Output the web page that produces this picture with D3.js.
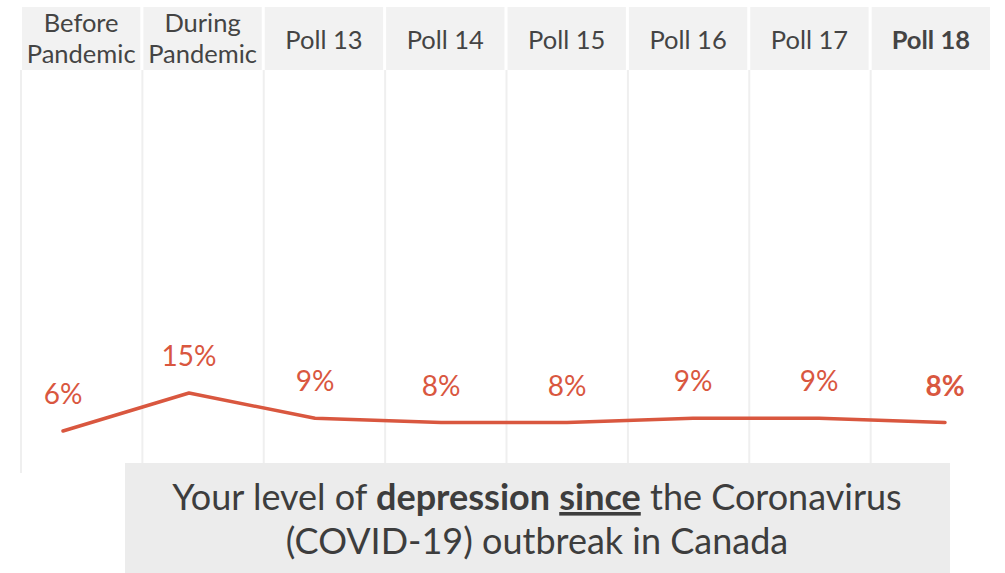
<!DOCTYPE html>
<html>
<head>
<meta charset="utf-8">
<script src="https://cdn.jsdelivr.net/npm/d3@7"></script>
<style>
  body { margin: 0; background: #fff; }
  svg { display: block; font-family: "Lato", "Open Sans", sans-serif; }
</style>
</head>
<body>
<div id="chart"></div>
<script>
// depression since covid - poll tracker

var categories = ["Before Pandemic", "During Pandemic", "Poll 13", "Poll 14", "Poll 15", "Poll 16", "Poll 17", "Poll 18"];
var headerLines = [["Before", "Pandemic"], ["During", "Pandemic"], ["Poll 13"], ["Poll 14"], ["Poll 15"], ["Poll 16"], ["Poll 17"], ["Poll 18"]];
var values = [6, 15, 9, 8, 8, 9, 9, 8];
var titleLine1 = [
  {text: "Your level of ", bold: false, under: false},
  {text: "depression", bold: true, under: false},
  {text: " ", bold: false, under: false},
  {text: "since", bold: true, under: true},
  {text: " the Coronavirus", bold: false, under: false}
];
var titleLine2 = "(COVID-19) outbreak in Canada";

var svgWidth = 1005;
var svgHeight = 573;
var lineColor = "#d9573f";

var svg = d3.select("#chart")
  .append("svg")
  .attr("width", svgWidth)
  .attr("height", svgHeight);

var xBand = d3.scaleBand()
  .domain(categories)
  .range([22, 990])
  .paddingInner(0.025);

var xPoint = d3.scalePoint()
  .domain(categories)
  .range([63, 945]);

var yScale = d3.scaleLinear()
  .domain([0, 15])
  .range([456.3, 393]);

// column grid lines
svg.append("g")
  .selectAll("line")
  .data(categories)
  .enter()
  .append("line")
  .attr("x1", function(d) { return xBand(d) - 1; })
  .attr("x2", function(d) { return xBand(d) - 1; })
  .attr("y1", 70)
  .attr("y2", 473)
  .attr("stroke", "#efefef")
  .attr("stroke-width", 2);

// header boxes
var head = svg.append("g")
  .selectAll("g")
  .data(categories)
  .enter()
  .append("g");

head.append("rect")
  .attr("x", function(d) { return xBand(d); })
  .attr("y", 7)
  .attr("width", xBand.bandwidth())
  .attr("height", 63)
  .attr("fill", "#f2f2f2");

head.each(function(d, i) {
  var lines = headerLines[i];
  var t = d3.select(this).append("text")
    .attr("text-anchor", "middle")
    .attr("font-size", "25.5px")
    .attr("fill", "#444")
    .attr("font-weight", i == categories.length - 1 ? "bold" : "normal");
  lines.forEach(function(l, j) {
    var yy = lines.length == 1 ? 49 : 32 + j * 31;
    t.append("tspan")
      .attr("x", xBand(d) + xBand.bandwidth() / 2)
      .attr("y", yy)
      .text(l);
  });
});

// the line
var line = d3.line()
  .x(function(d, i) { return xPoint(categories[i]); })
  .y(function(d) { return yScale(d); });

svg.append("path")
  .datum(values)
  .attr("d", line)
  .attr("fill", "none")
  .attr("stroke", lineColor)
  .attr("stroke-width", 3.5)
  .attr("stroke-linejoin", "round")
  .attr("stroke-linecap", "round");

svg.append("g")
  .selectAll("text")
  .data(values)
  .enter()
  .append("text")
  .attr("x", function(d, i) { return xPoint(categories[i]); })
  .attr("y", function(d) { return yScale(d) - 27; })
  .attr("text-anchor", "middle")
  .attr("font-size", "28px")
  .attr("font-weight", function(d, i) { return i == values.length - 1 ? "bold" : "normal"; })
  .attr("fill", lineColor)
  .text(function(d) { return d + "%"; });

// title box
svg.append("rect")
  .attr("x", 125)
  .attr("y", 463)
  .attr("width", 825)
  .attr("height", 110)
  .attr("fill", "#ececec");

var t1 = svg.append("text")
  .attr("x", 537)
  .attr("y", 510)
  .attr("text-anchor", "middle")
  .attr("font-size", "36px")
  .attr("fill", "#3d3d3d");

titleLine1.forEach(function(p) {
  t1.append("tspan")
    .attr("font-weight", p.bold ? "bold" : "normal")
    .attr("text-decoration", p.under ? "underline" : null)
    .text(p.text);
});

svg.append("text")
  .attr("x", 537)
  .attr("y", 554)
  .attr("text-anchor", "middle")
  .attr("font-size", "36px")
  .attr("fill", "#3d3d3d")
  .text(titleLine2);
</script>
</body>
</html>
